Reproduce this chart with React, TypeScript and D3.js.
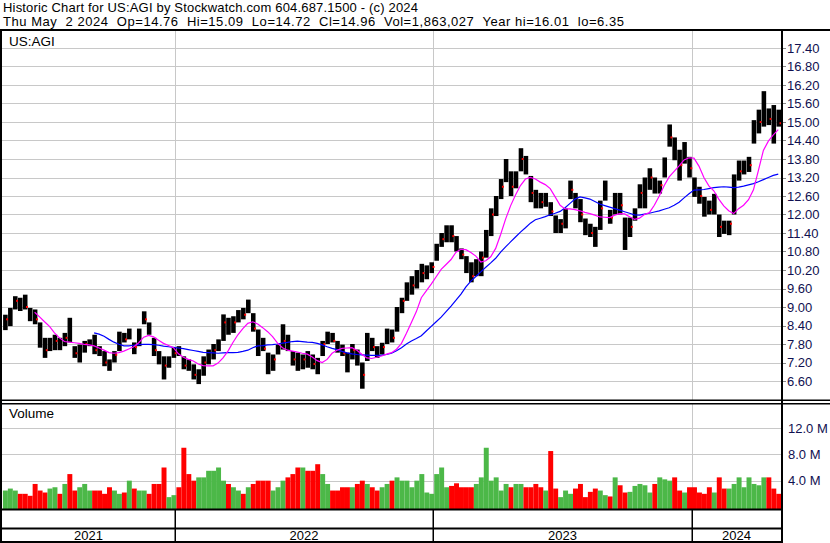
import * as d3 from 'd3';

// weekly bars (US:AGI, May 2021 - May 2024)
const weekHigh = [
  8.75, 8.97, 9.35, 9.3, 9.4, 8.97, 8.92, 8.5, 8.0, 8.0,
  8.1, 8.0, 8.16, 8.65, 7.73, 7.78, 7.9, 7.95, 8.1, 7.73,
  7.57, 7.3, 7.57, 8.2, 8.16, 8.3, 7.85, 8.3, 8.86, 8.5,
  8.0, 7.57, 7.4, 7.4, 7.68, 7.73, 7.4, 7.3, 7.14, 6.98,
  7.4, 7.62, 7.8, 7.95, 8.76, 8.65, 8.7, 8.9, 8.97, 9.24,
  8.8, 8.27, 8.0, 7.52, 7.46, 7.78, 8.44, 8.1, 7.57, 7.52,
  7.46, 7.57, 7.46, 7.35, 7.9, 8.2, 8.16, 7.9, 7.78, 7.52,
  7.8, 7.62, 7.2, 8.16, 8.0, 7.73, 7.84, 8.3, 8.27, 9.0,
  9.3, 9.8, 10.0, 10.2, 10.4, 10.35, 10.45, 11.05, 11.4, 11.65,
  11.65, 11.3, 10.9, 10.65, 10.45, 10.55, 10.8, 11.5, 12.2, 12.6,
  13.15, 13.8, 13.4, 13.4, 14.15, 13.9, 13.25, 12.8, 12.7, 12.7,
  12.4, 11.97, 11.85, 12.2, 13.1, 12.7, 12.5, 11.87, 11.7, 11.6,
  12.45, 13.1, 12.15, 12.7, 12.7, 11.9, 11.9, 12.2, 12.98, 13.2,
  13.5, 13.2, 13.1, 13.85, 14.92, 14.5, 14.1, 14.35, 13.87, 13.2,
  12.9, 12.57, 12.45, 12.67, 12.0, 11.8, 11.8, 13.3, 13.75, 13.75,
  13.87, 15.06, 15.4, 16.0, 15.44, 15.55, 15.4,
];
const weekLow = [
  8.25, 8.38, 8.92, 8.87, 8.92, 8.54, 8.44, 7.68, 7.35, 7.57,
  7.6, 7.6, 7.73, 7.85, 7.35, 7.2, 7.52, 7.73, 7.47, 7.41,
  7.08, 6.93, 7.2, 7.57, 7.85, 7.95, 7.47, 7.73, 8.44, 8.1,
  7.41, 7.14, 6.65, 7.03, 7.35, 7.41, 6.98, 6.93, 6.65, 6.5,
  6.77, 7.14, 7.3, 7.57, 7.9, 8.1, 8.16, 8.5, 8.6, 8.8,
  8.2, 7.41, 7.57, 6.82, 6.93, 7.46, 7.62, 7.57, 7.1, 6.93,
  6.98, 7.03, 6.98, 6.82, 7.41, 7.8, 7.85, 7.52, 7.41, 6.88,
  7.3, 7.1, 6.35, 7.25, 7.57, 7.35, 7.46, 7.8, 7.85, 8.2,
  8.8, 9.2, 9.4, 9.6, 9.8, 9.9, 10.1, 10.5, 10.95, 11.1,
  11.1, 10.8, 10.55, 10.1, 9.8, 10.0, 10.0, 10.6, 11.3, 11.95,
  12.5, 13.05, 12.6, 12.85, 13.4, 13.3, 12.4, 12.2, 12.2, 12.25,
  11.95, 11.4, 11.4, 11.55, 12.5, 12.2, 11.75, 11.33, 11.27, 10.95,
  11.5, 12.45, 11.7, 12.0, 12.0, 10.85, 11.27, 11.8, 12.2, 12.2,
  12.8, 12.68, 12.68, 13.2, 14.2, 13.76, 13.1, 13.65, 13.2, 12.57,
  12.35, 11.93, 12.0, 12.0, 11.27, 11.37, 11.33, 12.0, 13.1, 13.3,
  13.38, 14.3, 14.63, 14.85, 14.9, 14.3, 14.85,
];
const weekClose = [
  8.6, 8.9, 9.2, 9.1, 9.0, 8.7, 8.6, 7.8, 7.6, 7.8,
  7.9, 7.8, 8.0, 7.9, 7.5, 7.6, 7.8, 7.85, 7.6, 7.5,
  7.2, 7.1, 7.45, 8.0, 7.95, 8.1, 7.7, 8.2, 8.6, 8.2,
  7.6, 7.3, 7.1, 7.3, 7.5, 7.45, 7.1, 7.05, 6.8, 6.85,
  7.2, 7.5, 7.6, 7.9, 8.5, 8.4, 8.5, 8.8, 8.75, 9.0,
  8.3, 7.7, 7.65, 7.1, 7.3, 7.6, 7.9, 7.7, 7.3, 7.2,
  7.3, 7.2, 7.15, 7.0, 7.8, 8.0, 7.9, 7.6, 7.5, 7.1,
  7.6, 7.3, 6.8, 7.9, 7.7, 7.5, 7.7, 8.1, 8.0, 8.9,
  9.2, 9.6, 9.7, 10.0, 10.1, 10.2, 10.3, 10.9, 11.2, 11.4,
  11.3, 11.0, 10.7, 10.3, 10.0, 10.4, 10.6, 11.3, 12.0, 12.4,
  12.9, 13.4, 12.9, 13.2, 13.8, 13.5, 12.7, 12.5, 12.4, 12.5,
  12.1, 11.6, 11.7, 12.0, 12.8, 12.4, 12.0, 11.6, 11.4, 11.2,
  12.2, 12.6, 11.9, 12.4, 12.3, 11.2, 11.6, 12.0, 12.7, 12.9,
  13.2, 12.9, 12.95, 13.6, 14.5, 14.0, 13.6, 14.0, 13.5, 12.8,
  12.6, 12.2, 12.15, 12.3, 11.6, 11.5, 11.7, 12.9, 13.4, 13.5,
  13.6, 14.7, 15.0, 15.3, 15.1, 15.0, 14.96,
];
// millions of shares
const weekVolume = [
  2.5, 2.8, 2.5, 2.0, 2.0, 1.7, 3.5, 2.5, 2.2, 2.8,
  3.0, 2.0, 3.5, 5.0, 2.5, 3.0, 3.5, 2.5, 2.5, 2.5,
  2.0, 3.0, 2.5, 2.0, 2.2, 4.0, 2.8, 2.5, 2.5, 2.0,
  3.5, 3.5, 6.0, 1.5, 1.8, 3.0, 9.0, 5.0, 4.0, 4.5,
  4.5, 5.5, 5.5, 6.0, 4.0, 3.5, 3.0, 2.5, 2.0, 3.0,
  3.5, 4.0, 4.0, 4.0, 2.5, 3.0, 4.0, 4.5, 5.0, 6.0,
  6.0, 5.5, 5.5, 6.5, 5.0, 3.5, 2.5, 2.5, 3.0, 3.0,
  3.0, 3.5, 4.0, 3.5, 3.0, 2.5, 3.0, 3.5, 4.0, 4.5,
  4.0, 4.0, 3.0, 4.0, 5.0, 2.2, 2.0, 5.0, 6.0, 3.0,
  3.2, 3.6, 3.0, 3.0, 3.0, 3.5, 4.5, 9.0, 4.0, 4.5,
  2.5, 3.5, 3.0, 3.5, 3.5, 3.0, 3.0, 3.5, 3.0, 2.5,
  8.5, 2.8, 1.5, 2.5, 2.0, 2.8, 3.5, 1.5, 2.3, 2.8,
  2.5, 1.8, 1.6, 4.5, 3.3, 2.2, 2.3, 3.2, 3.5, 3.3,
  2.2, 3.5, 4.5, 4.2, 4.0, 4.5, 2.5, 2.2, 3.0, 3.0,
  2.2, 2.0, 3.0, 2.2, 4.5, 2.8, 2.8, 3.5, 4.5, 3.0,
  4.5, 3.5, 3.3, 4.5, 4.5, 2.8, 2.0,
];
// moving averages as drawn on the reference, one reading per week
const maShort = [
  null, null, null, null, null, null, 8.83, 8.68, 8.52, 8.37,
  8.16, 8.0, 7.88, 7.86, 7.84, 7.82, 7.79, 7.77, 7.74, 7.67,
  7.6, 7.52, 7.5, 7.52, 7.57, 7.64, 7.71, 7.84, 8.02, 8.08,
  8.03, 7.92, 7.82, 7.75, 7.68, 7.48, 7.37, 7.3, 7.25, 7.15,
  7.1, 7.09, 7.09, 7.18, 7.35, 7.57, 7.85, 8.1, 8.3, 8.47,
  8.52, 8.45, 8.33, 8.2, 8.04, 7.83, 7.68, 7.6, 7.57, 7.54,
  7.5, 7.47, 7.38, 7.26, 7.2, 7.3, 7.5, 7.6, 7.66, 7.67,
  7.68, 7.6, 7.47, 7.35, 7.33, 7.37, 7.41, 7.47, 7.52, 7.63,
  7.82, 8.15, 8.5, 8.85, 9.3, 9.52, 9.74, 9.98, 10.22, 10.38,
  10.54, 10.78, 10.87, 10.86, 10.77, 10.65, 10.46, 10.5, 10.63, 10.9,
  11.35, 11.85, 12.28, 12.63, 12.94, 13.15, 13.2, 13.15, 13.05, 12.97,
  12.84, 12.57, 12.3, 12.18, 12.18, 12.16, 12.12, 12.07, 12.03, 11.98,
  11.92, 11.91, 11.9, 11.98, 12.03, 12.02, 11.93, 11.84, 11.88, 12.0,
  12.06, 12.3, 12.6, 12.94, 13.22, 13.4, 13.58, 13.77, 13.84, 13.83,
  13.57, 13.2, 12.93, 12.77, 12.5, 12.28, 12.12, 12.03, 12.19, 12.3,
  12.48, 12.8, 13.43, 14.08, 14.38, 14.58, 14.75,
];
const maLong = [
  null, null, null, null, null, null, null, null, null, null,
  null, null, null, null, null, null, null, null, 8.16, 8.12,
  8.05, 7.95, 7.86, 7.79, 7.74, 7.74, 7.76, 7.78, 7.79, 7.79,
  7.78, 7.76, 7.73, 7.71, 7.69, 7.67, 7.65, 7.62, 7.59, 7.56,
  7.53, 7.52, 7.51, 7.5, 7.51, 7.52, 7.52, 7.53, 7.56, 7.6,
  7.68, 7.74, 7.75, 7.77, 7.78, 7.8, 7.83, 7.85, 7.88, 7.89,
  7.88, 7.86, 7.85, 7.82, 7.77, 7.71, 7.66, 7.62, 7.56, 7.51,
  7.48, 7.46, 7.45, 7.44, 7.43, 7.43, 7.44, 7.46, 7.5, 7.58,
  7.68, 7.8, 7.9, 7.98, 8.07, 8.22, 8.37, 8.52, 8.67, 8.85,
  9.03, 9.22, 9.42, 9.65, 9.84, 9.99, 10.14, 10.29, 10.43, 10.58,
  10.78, 10.95, 11.11, 11.27, 11.43, 11.57, 11.72, 11.83, 11.88, 11.93,
  11.99, 12.04, 12.1, 12.22, 12.36, 12.5, 12.57, 12.54, 12.5, 12.42,
  12.34, 12.29, 12.24, 12.19, 12.14, 12.09, 12.04, 11.99, 11.98, 12.01,
  12.04, 12.08, 12.12, 12.17, 12.22, 12.3, 12.4, 12.54, 12.67, 12.79,
  12.8, 12.81, 12.84, 12.87, 12.89, 12.9, 12.89, 12.87, 12.89, 12.92,
  12.96, 13.0, 13.06, 13.13, 13.2, 13.27, 13.31,
];

const priceTicks = [17.4, 16.8, 16.2, 15.6, 15.0, 14.4, 13.8, 13.2, 12.6, 12.0, 11.4, 10.8, 10.2, 9.6, 9.0, 8.4, 7.8, 7.2, 6.6];
const volumeTicks = [12, 8, 4];
const years = [2021, 2022, 2023, 2024];

const titleLine1 = 'Historic Chart for US:AGI by Stockwatch.com 604.687.1500 - (c) 2024';
const titleLine2 = 'Thu May  2 2024  Op=14.76  Hi=15.09  Lo=14.72  Cl=14.96  Vol=1,863,027  Year hi=16.01  lo=6.35';

const firstWeek = new Date(2021, 4, 3);
const weeks = weekHigh.map((_, i) => d3.timeDay.offset(firstWeek, 7 * i));

const font = 'Arial, "Liberation Sans", sans-serif';
const grid = '#c8c8c8';

export default function App() {
  const width = 830;
  const height = 543;
  const left = 2;
  const right = 781;

  const x = d3
    .scaleTime()
    .domain([new Date(2022, 0, 1), new Date(2024, 0, 1)])
    .range([175, 692]);
  const y = d3.scaleLinear().domain([6.6, 17.4]).range([381, 48]);
  const yv = d3.scaleLinear().domain([0, 12]).range([507, 428]);

  const step = x(weeks[1]) - x(weeks[0]);
  const mid = (i: number) => x(weeks[i]) + step / 2 - 0.5;

  const line = d3
    .line<number | null>()
    .defined((d) => d != null)
    .x((_, i) => mid(i))
    .y((d) => y(d as number));

  const bounds = [2022, 2023, 2024].map((yr) => Math.round(x(new Date(yr, 0, 1))));
  bounds[1] -= 1;
  const edges = [left, ...bounds, right];

  const volColor = (i: number) => {
    if (i === 0) return '#4cb848';
    const d = weekClose[i] - weekClose[i - 1];
    if (d > 0) return '#4cb848';
    if (d < 0) return '#ff0000';
    return '#a8a8a8';
  };

  return (
    <svg
      width={width}
      height={height}
      style={{ position: 'absolute', left: 0, top: 0, background: '#fff' }}
      fontFamily={font}
    >
      <defs>
        <clipPath id="pricePanel">
          <rect x={left} y={31} width={right - left} height={369} />
        </clipPath>
      </defs>
      <rect width={width} height={height} fill="#fff" />

      {/* header */}
      <text x={3} y={11.5} fontSize={13} textLength={415} lengthAdjust="spacing" xmlSpace="preserve" style={{ whiteSpace: 'pre' }}>
        {titleLine1}
      </text>
      <text x={3} y={26} fontSize={13} textLength={621} lengthAdjust="spacing" xmlSpace="preserve" style={{ whiteSpace: 'pre' }}>
        {titleLine2}
      </text>

      {/* price grid */}
      {priceTicks.map((t) => (
        <g key={t}>
          <line x1={left} x2={right} y1={Math.round(y(t)) + 0.5} y2={Math.round(y(t)) + 0.5} stroke={grid} />
          <line x1={right + 2} x2={right + 5} y1={Math.round(y(t)) + 0.5} y2={Math.round(y(t)) + 0.5} stroke="#888" />
          <text x={787} y={y(t)} dy="0.36em" fontSize={13} fill="#101050">
            {t.toFixed(2)}
          </text>
        </g>
      ))}
      {bounds.map((b) => (
        <line key={'pg' + b} x1={b + 0.5} x2={b + 0.5} y1={31} y2={400} stroke={grid} />
      ))}
      <text x={9} y={46} fontSize={13.5}>
        US:AGI
      </text>

      {/* price bars */}
      <g clipPath="url(#pricePanel)">
        {weeks.map((w, i) => {
          const x0 = x(w) + 0.2;
          const bw = step - 0.4;
          return (
            <g key={i}>
              <rect x={x0} y={y(weekHigh[i])} width={bw} height={y(weekLow[i]) - y(weekHigh[i])} fill="#000" />
              {i % 2 === 0 && (
                <rect x={x0 + bw - 1.5} y={y(weekClose[i]) - 1} width={2} height={2} fill="#ff0000" />
              )}
            </g>
          );
        })}
        <path d={line(maLong) ?? ''} fill="none" stroke="#0000ff" strokeWidth={1.2} />
        <path d={line(maShort) ?? ''} fill="none" stroke="#ff00ff" strokeWidth={1.2} />
      </g>

      {/* volume panel */}
      {volumeTicks.map((t) => (
        <g key={'v' + t}>
          <line x1={left} x2={right} y1={Math.round(yv(t)) + 0.5} y2={Math.round(yv(t)) + 0.5} stroke={grid} />
          <text x={788} y={yv(t)} dy="0.36em" fontSize={13} fill="#101050">
            {t.toFixed(1)} M
          </text>
        </g>
      ))}
      {bounds.map((b) => (
        <line key={'vg' + b} x1={b + 0.5} x2={b + 0.5} y1={404} y2={509} stroke={grid} />
      ))}
      {weeks.map((w, i) => {
        const x0 = x(w);
        const x1 = Math.min(x0 + step, right);
        return (
          <rect key={'vb' + i} x={x0} y={yv(weekVolume[i])} width={x1 - x0} height={509 - yv(weekVolume[i])} fill={volColor(i)} />
        );
      })}
      <text x={9} y={418} fontSize={13.5}>
        Volume
      </text>

      {/* frame */}
      <rect x={0} y={29} width={width} height={2} fill="#000" />
      <rect x={0} y={399.5} width={width} height={1.5} fill="#000" />
      <rect x={0} y={403} width={width} height={1.5} fill="#000" />
      <rect x={0} y={508.5} width={right + 1} height={2} fill="#000" />
      <rect x={0} y={527.5} width={right + 1} height={2} fill="#000" />
      <rect x={0} y={541} width={right + 1} height={2} fill="#000" />
      <rect x={0} y={29} width={2} height={514} fill="#000" />
      <rect x={right} y={29} width={2} height={514} fill="#000" />
      {bounds.map((b) => (
        <rect key={'yb' + b} x={b - 0.5} y={509} width={1.5} height={34} fill="#000" />
      ))}

      {/* year labels */}
      {years.map((yr, i) => (
        <text key={yr} x={(edges[i] + edges[i + 1]) / 2} y={540} fontSize={13} textAnchor="middle">
          {yr}
        </text>
      ))}
    </svg>
  );
}
